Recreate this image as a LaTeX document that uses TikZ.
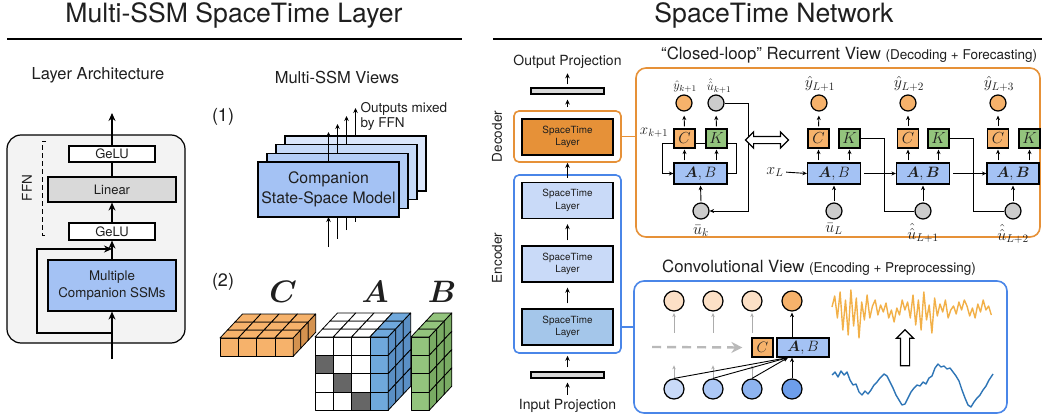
\RequirePackage{fix-cm}
\documentclass[tikz,border=0pt]{standalone}
\usepackage{amsmath}
\usepackage{bm}
\usepackage{fontspec}
\setmainfont{TeX Gyre Heros}
\usetikzlibrary{arrows.meta,calc,shapes.arrows}
\definecolor{boxblue}{HTML}{A4C2F4}
\definecolor{st0}{HTML}{A4C2F4}
\definecolor{st1}{HTML}{B3CDF6}
\definecolor{st2}{HTML}{C6DAF8}
\definecolor{st3}{HTML}{DBE7FB}
\definecolor{lblue}{HTML}{C9DAF8}
\definecolor{mblue}{HTML}{A4C6EA}
\definecolor{corange}{HTML}{F6B26B}
\definecolor{corangedark}{HTML}{D4924F}
\definecolor{decorange}{HTML}{E69138}
\definecolor{cblue}{HTML}{6FA8DC}
\definecolor{cbluedark}{HTML}{5A8FC5}
\definecolor{cgreen}{HTML}{93C47D}
\definecolor{cgreendark}{HTML}{79AB63}
\definecolor{dgray}{HTML}{666666}
\definecolor{lgray}{HTML}{F3F3F3}
\definecolor{mgray}{HTML}{D9D9D9}
\definecolor{circgray}{HTML}{CCCCCC}
\definecolor{encblue}{HTML}{4A86E8}
\definecolor{txt}{HTML}{1F1F1F}
\definecolor{lorange}{HTML}{FCE0C6}
\definecolor{bc1}{HTML}{C9DAF8}
\definecolor{bc2}{HTML}{ADC8F5}
\definecolor{bc3}{HTML}{8EB4F0}
\definecolor{bc4}{HTML}{6D9EEB}
\definecolor{sigorange}{HTML}{F2B048}
\definecolor{sigblue}{HTML}{2E75B6}
\newcommand{\fsz}[2]{\fontsize{#1}{#2}\selectfont}
\begin{document}
\begin{tikzpicture}[x=1pt,y=-1pt,
  every node/.style={text=txt},
  arr/.style={-{Stealth[length=5pt,width=4.5pt]}, line width=0.9pt},
  arrbig/.style={-{Stealth[length=8pt,width=7pt]}, line width=1.1pt},
  sa/.style={-{Stealth[length=4.5pt,width=4pt]}, line width=0.9pt},
  ga/.style={-{Stealth[length=4pt,width=3.5pt]}, line width=0.8pt, draw=gray!65},
  ln/.style={line width=0.9pt},
  mlbl/.style={inner sep=0.5pt},
  plainbox/.style={draw, line width=1.2pt, inner sep=0pt, align=center},
  bar/.style={draw, fill=mgray, line width=1.1pt, minimum width=73pt, minimum height=6pt, inner sep=0pt},
  stl/.style={plainbox, line width=1.4pt, minimum width=91pt, minimum height=36pt, font=\fsz{9.9}{12.7}},
  oc/.style={circle, draw, line width=1.2pt, fill=corange, minimum size=16pt, inner sep=0pt},
  gc/.style={oc, fill=circgray},
  cb/.style={draw, line width=1.2pt, fill=corange, minimum width=21pt, minimum height=19pt, inner sep=0pt, font=\fsz{16}{16}},
  kb/.style={cb, fill=cgreen},
  ab/.style={draw, line width=1.2pt, fill=boxblue, minimum width=53pt, minimum height=21pt, inner sep=0pt, font=\fsz{15}{15}},
  tcirc/.style={circle, draw, line width=1.2pt, minimum size=20pt, inner sep=0pt},
  cubeedge/.style={draw=black, line width=0.8pt, line join=round},
  frame/.style={line width=1.6pt, rounded corners=10pt, inner sep=0pt}
]
\useasboundingbox (0,0) rectangle (1042,415);
\fill[white] (0,0) rectangle (1042,415);

% ---------- headers ----------
\node[font=\fsz{26.6}{30}] (t1) at (234,15) {Multi-SSM SpaceTime Layer};
\node[font=\fsz{26.6}{30}] (t2) at (774,15) {SpaceTime Network};
\draw[line width=1.2pt] (7,39) -- (462,39);
\draw[line width=1.2pt] (493,39) -- (1042,39);

% ---------- layer architecture ----------
\node[font=\fsz{16.5}{20}] (larch) at (98,75) {Layer Architecture};
\node[draw, line width=1.2pt, rounded corners=14pt, fill=lgray, minimum width=178pt, minimum height=208pt, inner sep=0pt] (lbox) at (96,239) {};
\node[plainbox, fill=white, minimum width=86pt, minimum height=16pt, font=\fsz{13}{15}] (gelu2) at (112,154) {GeLU};
\node[plainbox, fill=mgray, minimum width=128pt, minimum height=25pt, font=\fsz{13}{15}] (lin) at (112,189.5) {Linear};
\node[plainbox, fill=white, minimum width=86pt, minimum height=17pt, font=\fsz{13}{15}] (gelu1) at (112,231.5) {GeLU};
\node[plainbox, fill=boxblue, minimum width=128pt, minimum height=51pt, font=\fsz{13.3}{17}] (ssm) at (112,285.5) {Multiple\\Companion SSMs};
\coordinate (inL) at (112,359);
\coordinate (outL) at (112,113);
\coordinate (resS) at (112,333);
\coordinate (resE) at (112,249);
\draw[arrbig] (inL) -- (ssm.south);
\draw[arrbig] (resS) -| (37,249) -- (resE);
\draw[arrbig] (ssm.north) -- (gelu1.south);
\draw[arrbig] (gelu1.north) -- (lin.south);
\draw[line width=1.1pt] (lin.north) -- (gelu2.south);
\draw[arrbig] (gelu2.north) -- (outL);
\draw[line width=1pt, dash pattern=on 5pt off 3pt] (46,141) -- (42,141) -- (42,235) -- (46,235);
\node[rotate=90, font=\fsz{13.5}{15}] (ffn) at (27,188) {FFN};

% ---------- multi-SSM views ----------
\node[font=\fsz{16.5}{20}] (msv) at (337,77) {Multi-SSM Views};
\node[font=\fsz{18}{20}] (one) at (223,117) {(1)};
\foreach \i/\col in {3/st3,2/st2,1/st1,0/st0}{
  \coordinate (bin\i) at ({328.5+9*\i},{247-8.5*\i});
  \coordinate (tout\i) at ({328.5+9*\i},{132-8*\i});
  \draw[arr] (bin\i) -- ({328.5+9*\i},{217-8.7*\i});
  \node[plainbox, fill=\col, minimum width=141pt, minimum height=55pt] (ms\i) at ({328.5+9*\i},{189.5-8.7*\i}) {};
  \draw[arr] (ms\i.north) -- (tout\i);
}
\node[font=\fsz{15.8}{20}, align=center] (mstxt) at (ms0.center) {Companion\\State-Space Model};
\node[anchor=west, align=left, font=\fsz{13.5}{15}] (omx) at (357,116) {Outputs mixed\\by FFN};

% ---------- (2) cubes ----------
\node[font=\fsz{18}{20}] (two) at (223,282) {(2)};
\node[font=\fsz{31}{31}, mlbl] (labC) at (283,292) {$\bm{C}$};
\node[font=\fsz{31}{31}, mlbl] (labA) at (375,292) {$\bm{A}$};
\node[font=\fsz{31}{31}, mlbl] (labB) at (442,292) {$\bm{B}$};
% C block: 4 x 1 x 3
\foreach \c in {0,1,2,3}{
  \filldraw[cubeedge, fill=corange] ({220+\c*18.3},338) rectangle ++(18.3,18.3);
  \foreach \z in {0,1,2}{
    \filldraw[cubeedge, fill=corange] ({220+\c*18.3+\z*7.5},{338-\z*8}) -- ++(18.3,0) -- ++(7.5,-8) -- ++(-18.3,0) -- cycle;
  }
}
\foreach \z in {0,1,2}{
  \filldraw[cubeedge, fill=corangedark] ({293.2+\z*7.5},{338-\z*8}) -- ++(7.5,-8) -- ++(0,18.3) -- ++(-7.5,8) -- cycle;
}
% A block: 4 x 4 x 3
\foreach \c in {0,1,2}{
  \foreach \r in {0,1,2,3}{
    \filldraw[cubeedge, fill=white] ({315+\c*18.3},{337+\r*18.3}) rectangle ++(18.3,18.3);
  }
  \foreach \z in {0,1,2}{
    \filldraw[cubeedge, fill=white] ({315+\c*18.3+\z*7.5},{337-\z*8}) -- ++(18.3,0) -- ++(7.5,-8) -- ++(-18.3,0) -- cycle;
  }
}
\foreach \r in {0,1,2,3}{
  \filldraw[cubeedge, fill=cblue] ({315+3*18.3},{337+\r*18.3}) rectangle ++(18.3,18.3);
}
\foreach \z in {0,1,2}{
  \filldraw[cubeedge, fill=cblue] ({315+3*18.3+\z*7.5},{337-\z*8}) -- ++(18.3,0) -- ++(7.5,-8) -- ++(-18.3,0) -- cycle;
  \foreach \r in {0,1,2,3}{
    \filldraw[cubeedge, fill=cbluedark] ({388.2+\z*7.5},{337+\r*18.3-\z*8}) -- ++(7.5,-8) -- ++(0,18.3) -- ++(-7.5,8) -- cycle;
  }
}
\foreach \c/\r in {0/1,1/2,2/3}{
  \filldraw[cubeedge, fill=dgray] ({315+\c*18.3},{337+\r*18.3}) rectangle ++(18.3,18.3);
}
% B block: 1 x 4 x 3
\foreach \r in {0,1,2,3}{
  \filldraw[cubeedge, fill=cgreen] (411,{337+\r*18.3}) rectangle ++(18.3,18.3);
}
\foreach \z in {0,1,2}{
  \filldraw[cubeedge, fill=cgreen] ({411+\z*7.5},{337-\z*8}) -- ++(18.3,0) -- ++(7.5,-8) -- ++(-18.3,0) -- cycle;
  \foreach \r in {0,1,2,3}{
    \filldraw[cubeedge, fill=cgreendark] ({429.3+\z*7.5},{337+\r*18.3-\z*8}) -- ++(7.5,-8) -- ++(0,18.3) -- ++(-7.5,8) -- cycle;
  }
}

% ---------- SpaceTime network column ----------
\node[font=\fsz{14}{16}] (outp) at (567.5,62) {Output Projection};
\node[bar] (obar) at (567.5,91) {};
\node[draw=decorange, frame, rounded corners=5pt, minimum width=107pt, minimum height=51pt] (decbox) at (567.5,136.5) {};
\node[stl, fill=decorange] (dl) at (567.5,137) {SpaceTime\\Layer};
\node[draw=encblue, frame, rounded corners=5pt, minimum width=107pt, minimum height=178pt] (encbox) at (567.5,264) {};
\node[stl, fill=lblue] (el3) at (567.5,200.5) {SpaceTime\\Layer};
\node[stl, fill=lblue] (el2) at (567.5,264) {SpaceTime\\Layer};
\node[stl, fill=mblue] (el1) at (567.5,327) {SpaceTime\\Layer};
\node[bar] (ibar) at (567.5,375) {};
\node[font=\fsz{14}{16}] (inp) at (567.5,406) {Input Projection};
\node[rotate=90, font=\fsz{13.5}{15}] (dectxt) at (497,136.5) {Decoder};
\node[rotate=90, font=\fsz{13.5}{15}] (enctxt) at (497,258) {Encoder};
\draw[arr, shorten <=3pt, shorten >=1pt] (obar.north) -- (outp.south);
\draw[arr, shorten <=3pt, shorten >=5pt] (decbox.north) -- (obar.south);
\draw[arr, shorten <=4pt] (el3.north) -- (decbox.south);
\draw[arr, shorten <=5pt, shorten >=5pt] (el2.north) -- (el3.south);
\draw[arr, shorten <=5pt, shorten >=5pt] (el1.north) -- (el2.south);
\draw[arr, shorten <=4pt, shorten >=2pt] (ibar.north) -- (encbox.south);
\draw[arr, shorten <=1pt, shorten >=4pt] (inp.north) -- (ibar.south);

% ---------- closed-loop view ----------
\node[draw=decorange, frame, minimum width=404pt, minimum height=169pt] (clbox) at (838,152.5) {};
\draw[decorange, line width=1.6pt] (decbox.east) -- (decbox.east -| clbox.west);
\node[anchor=west, inner sep=0pt, font=\fsz{16.8}{20}] (cltitle) at (661,55) {``Closed-loop'' Recurrent View {\fsz{13.5}{16}(Decoding + Forecasting)}};

% left cell
\node[oc] (yk) at (684,103) {};
\node[gc] (uk1) at (716,103) {};
\node[cb] (ck) at (684.5,138.5) {$C$};
\node[kb] (kk) at (716.5,138.5) {$K$};
\node[ab] (abk) at (700.5,173.5) {$\bm{A}, B$};
\node[gc] (ubk) at (701,211) {};
\node[font=\fsz{12.5}{13}, mlbl] (lyk) at (685,87) {$\hat{y}_{k+1}$};
\node[font=\fsz{12.5}{13}, mlbl] (luk) at (719,86) {$\hat{\hat{u}}_{k+1}$};
\node[font=\fsz{15}{15}, mlbl] (lxk) at (654,133) {$x_{k+1}$};
\node[font=\fsz{16}{16}, mlbl] (lubk) at (701,231) {$\bar{u}_k$};
\draw[ln] ($(ck.east)+(0,4.5)$) -- ($(kk.west)+(0,4.5)$);
\draw[sa] ($(ck.west)+(0,4.5)$) -- ++(-11,0) |- (abk.west);
\draw[ln] ($(kk.east)+(0,4.5)$) -- ++(9,0) |- (abk.east);
\draw[sa, shorten <=2pt, shorten >=4pt] (ck.north) -- (yk.south);
\draw[sa, shorten <=2pt, shorten >=4pt] (kk.north) -- (uk1.south);
\draw[sa, shorten <=2pt, shorten >=1pt] (abk.north -| ck) -- (ck.south);
\draw[sa, shorten <=2pt, shorten >=1pt] (abk.north -| kk) -- (kk.south);
\draw[sa, shorten <=1pt, shorten >=1pt] (ubk.north) -- (abk.south);
\draw[sa] (uk1.east) -- ++(24,0) |- (ubk.east);

\node[double arrow, draw, line width=1.2pt, fill=white, minimum height=43pt, inner sep=3pt, double arrow head extend=4.5pt] (dbl) at (767,140) {};

% cell L
\node[oc] (yl1) at (819,103) {};
\node[cb] (cl) at (818.5,138.5) {$C$};
\node[kb] (kl) at (849.5,138.5) {$K$};
\node[ab] (abl) at (834,173.5) {$\bm{A}, B$};
\node[gc] (ubl) at (834,211) {};
\node[font=\fsz{16}{16}, mlbl] (lyl1) at (820,84) {$\hat{y}_{L+1}$};
\node[font=\fsz{16}{16}, mlbl] (lubl) at (834,229) {$\bar{u}_L$};
\node[font=\fsz{16}{16}, mlbl] (lxl) at (775,172) {$x_L$};
% cell L+1
\node[oc] (y2) at (908,103) {};
\node[cb] (c2) at (908,138.5) {$C$};
\node[kb] (k2) at (938.5,138.5) {$K$};
\node[ab] (ab2) at (923,173.5) {$\bm{A}, \bm{B}$};
\node[gc] (ul2) at (923,211) {};
\node[font=\fsz{16}{16}, mlbl] (ly2) at (909,84) {$\hat{y}_{L+2}$};
\node[font=\fsz{16}{16}, mlbl] (lul2) at (923,233) {$\hat{\hat{u}}_{L+1}$};
% cell L+2
\node[oc] (y3) at (998,103) {};
\node[cb] (c3) at (998,138.5) {$C$};
\node[kb] (k3) at (1029.5,138.5) {$K$};
\node[ab, minimum width=52pt] (ab3) at (1013,173.5) {$\bm{A}, \bm{B}$};
\node[gc] (ul3) at (1013,211) {};
\node[font=\fsz{16}{16}, mlbl] (ly3) at (999,84) {$\hat{y}_{L+3}$};
\node[font=\fsz{16}{16}, mlbl] (lul3) at (1013,234) {$\hat{\hat{u}}_{L+2}$};

\foreach \cc/\yy in {cl/yl1,c2/y2,c3/y3}{
  \draw[sa, shorten <=2pt, shorten >=4pt] (\cc.north) -- (\yy.south);
}
\foreach \aa/\cc/\kk/\uu in {abl/cl/kl/ubl,ab2/c2/k2/ul2,ab3/c3/k3/ul3}{
  \draw[sa, shorten <=2pt, shorten >=1pt] (\aa.north -| \cc) -- (\cc.south);
  \draw[sa, shorten <=2pt, shorten >=1pt] (\aa.north -| \kk) -- (\kk.south);
  \draw[sa, shorten <=1pt, shorten >=1pt] (\uu.north) -- (\aa.south);
}
\draw[sa, shorten <=2pt] (lxl.east) -- (abl.west);
\draw[ln] (kl.east) -- ++(24,0) |- (ul2.west);
\draw[ln] (k2.east) -- ++(24,0) |- (ul3.west);
\draw[sa, shorten <=3pt] (abl.east) -- (ab2.west);
\draw[sa, shorten <=3pt] (ab2.east) -- (ab3.west);

% ---------- convolutional view ----------
\node[draw=encblue, frame, minimum width=373pt, minimum height=132pt] (convbox) at (820.5,347) {};
\draw[encblue, line width=1.6pt] (el1.east -| encbox.east) -- (el1.east -| convbox.west);
\node[anchor=west, inner sep=0pt, font=\fsz{16.8}{20}] (cvtitle) at (662,268) {Convolutional View {\fsz{13.5}{16}(Encoding + Preprocessing)}};

\node[tcirc, fill=lorange] (tc1) at (674,301) {};
\node[tcirc, fill=lorange] (tc2) at (713,301) {};
\node[tcirc, fill=lorange] (tc3) at (752,301) {};
\node[tcirc, fill=corange] (tc4) at (792,301) {};
\node[tcirc, fill=bc1] (b1) at (674,389) {};
\node[tcirc, fill=bc2] (b2) at (713,389) {};
\node[tcirc, fill=bc3] (b3) at (752,389) {};
\node[tcirc, fill=bc4] (b4) at (792,389) {};
\node[cb, font=\fsz{15}{15}] (cc) at (762.5,347.5) {$C$};
\node[ab, minimum width=52pt, minimum height=19pt] (cab) at (803,347.5) {$\bm{A}, B$};
\coordinate (abin) at ($(cab.south)+(-15,0)$);
\coordinate (dst) at (652,347);
\foreach \t in {tc1,tc2,tc3}{
  \draw[ga, shorten >=1.5pt] ($(\t.south)+(0,21)$) -- (\t.south);
}
\foreach \b in {b1,b2,b3}{
  \draw[ga, shorten <=0.5pt] (\b.north) -- ++(0,-13);
}
\draw[sa, shorten >=1pt] (cab.north -| tc4) -- (tc4.south);
\draw[sa] (b1.north) -- (abin);
\draw[sa] (b2.north) -- (abin);
\draw[sa] (b3.north) -- (abin);
\draw[sa] (b4.north) -- (cab.south -| b4);
\draw[draw=gray!55, line width=2.4pt, dash pattern=on 9pt off 6pt, -{Stealth[length=11pt,width=11pt]}] (dst) -- ($(cc.west)+(-9,0)$);

% signals
\draw[sigorange, line width=1.4pt, line join=round] plot coordinates {
(832.0,307) (834.7,296) (837.4,318) (840.1,292) (842.8,330) (845.5,300) (848.2,335) (850.9,290) (853.6,326) (856.3,298)
(859.0,338) (861.7,302) (864.4,320) (867.1,295) (869.8,318) (872.5,306) (875.2,300) (877.9,315) (880.6,305) (883.3,312)
(886.0,303) (888.7,318) (891.4,310) (894.1,322) (896.8,308) (899.5,315) (902.2,300) (904.9,310) (907.6,302) (910.3,318)
(913.0,295) (915.7,325) (918.4,300) (921.1,330) (923.8,292) (926.5,320) (929.2,305) (931.9,333) (934.6,298) (937.3,316)
(940.0,304) (942.7,312) (945.4,300) (948.1,318) (950.8,310) (953.5,306) (956.2,314) (958.9,302) (961.6,310) (964.3,300)
(967.0,306) (969.7,316) (972.4,308) (975.1,318) (977.8,304) (980.5,312) (983.2,300) (985.9,310) (988.6,306) (991.3,315)};
\draw[sigblue, line width=1.4pt, line join=round] plot coordinates {
(832,375) (835,372) (838,377) (841,371) (844,375) (847,372) (850,380) (853,385) (856,384) (859,392) (862,395) (865,391)
(868,394) (871,390) (874,385) (877,382) (880,378) (884,374) (887,376) (890,382) (893,388) (896,395) (899,400) (902,405)
(905,404) (908,398) (911,392) (914,388) (917,385) (920,386) (923,382) (926,384) (929,378) (932,376) (935,368) (938,364)
(941,367) (944,366) (947,369) (950,368) (953,372) (956,376) (959,381) (962,390) (965,398) (968,405) (971,407) (974,402)
(977,398) (980,395) (983,390) (986,386) (989,380) (993,374)};
\node[single arrow, draw, line width=1.2pt, fill=white, rotate=90, minimum height=36pt, inner sep=4pt, single arrow head extend=4pt] (bigup) at (905,350) {};
\end{tikzpicture}
\end{document}
